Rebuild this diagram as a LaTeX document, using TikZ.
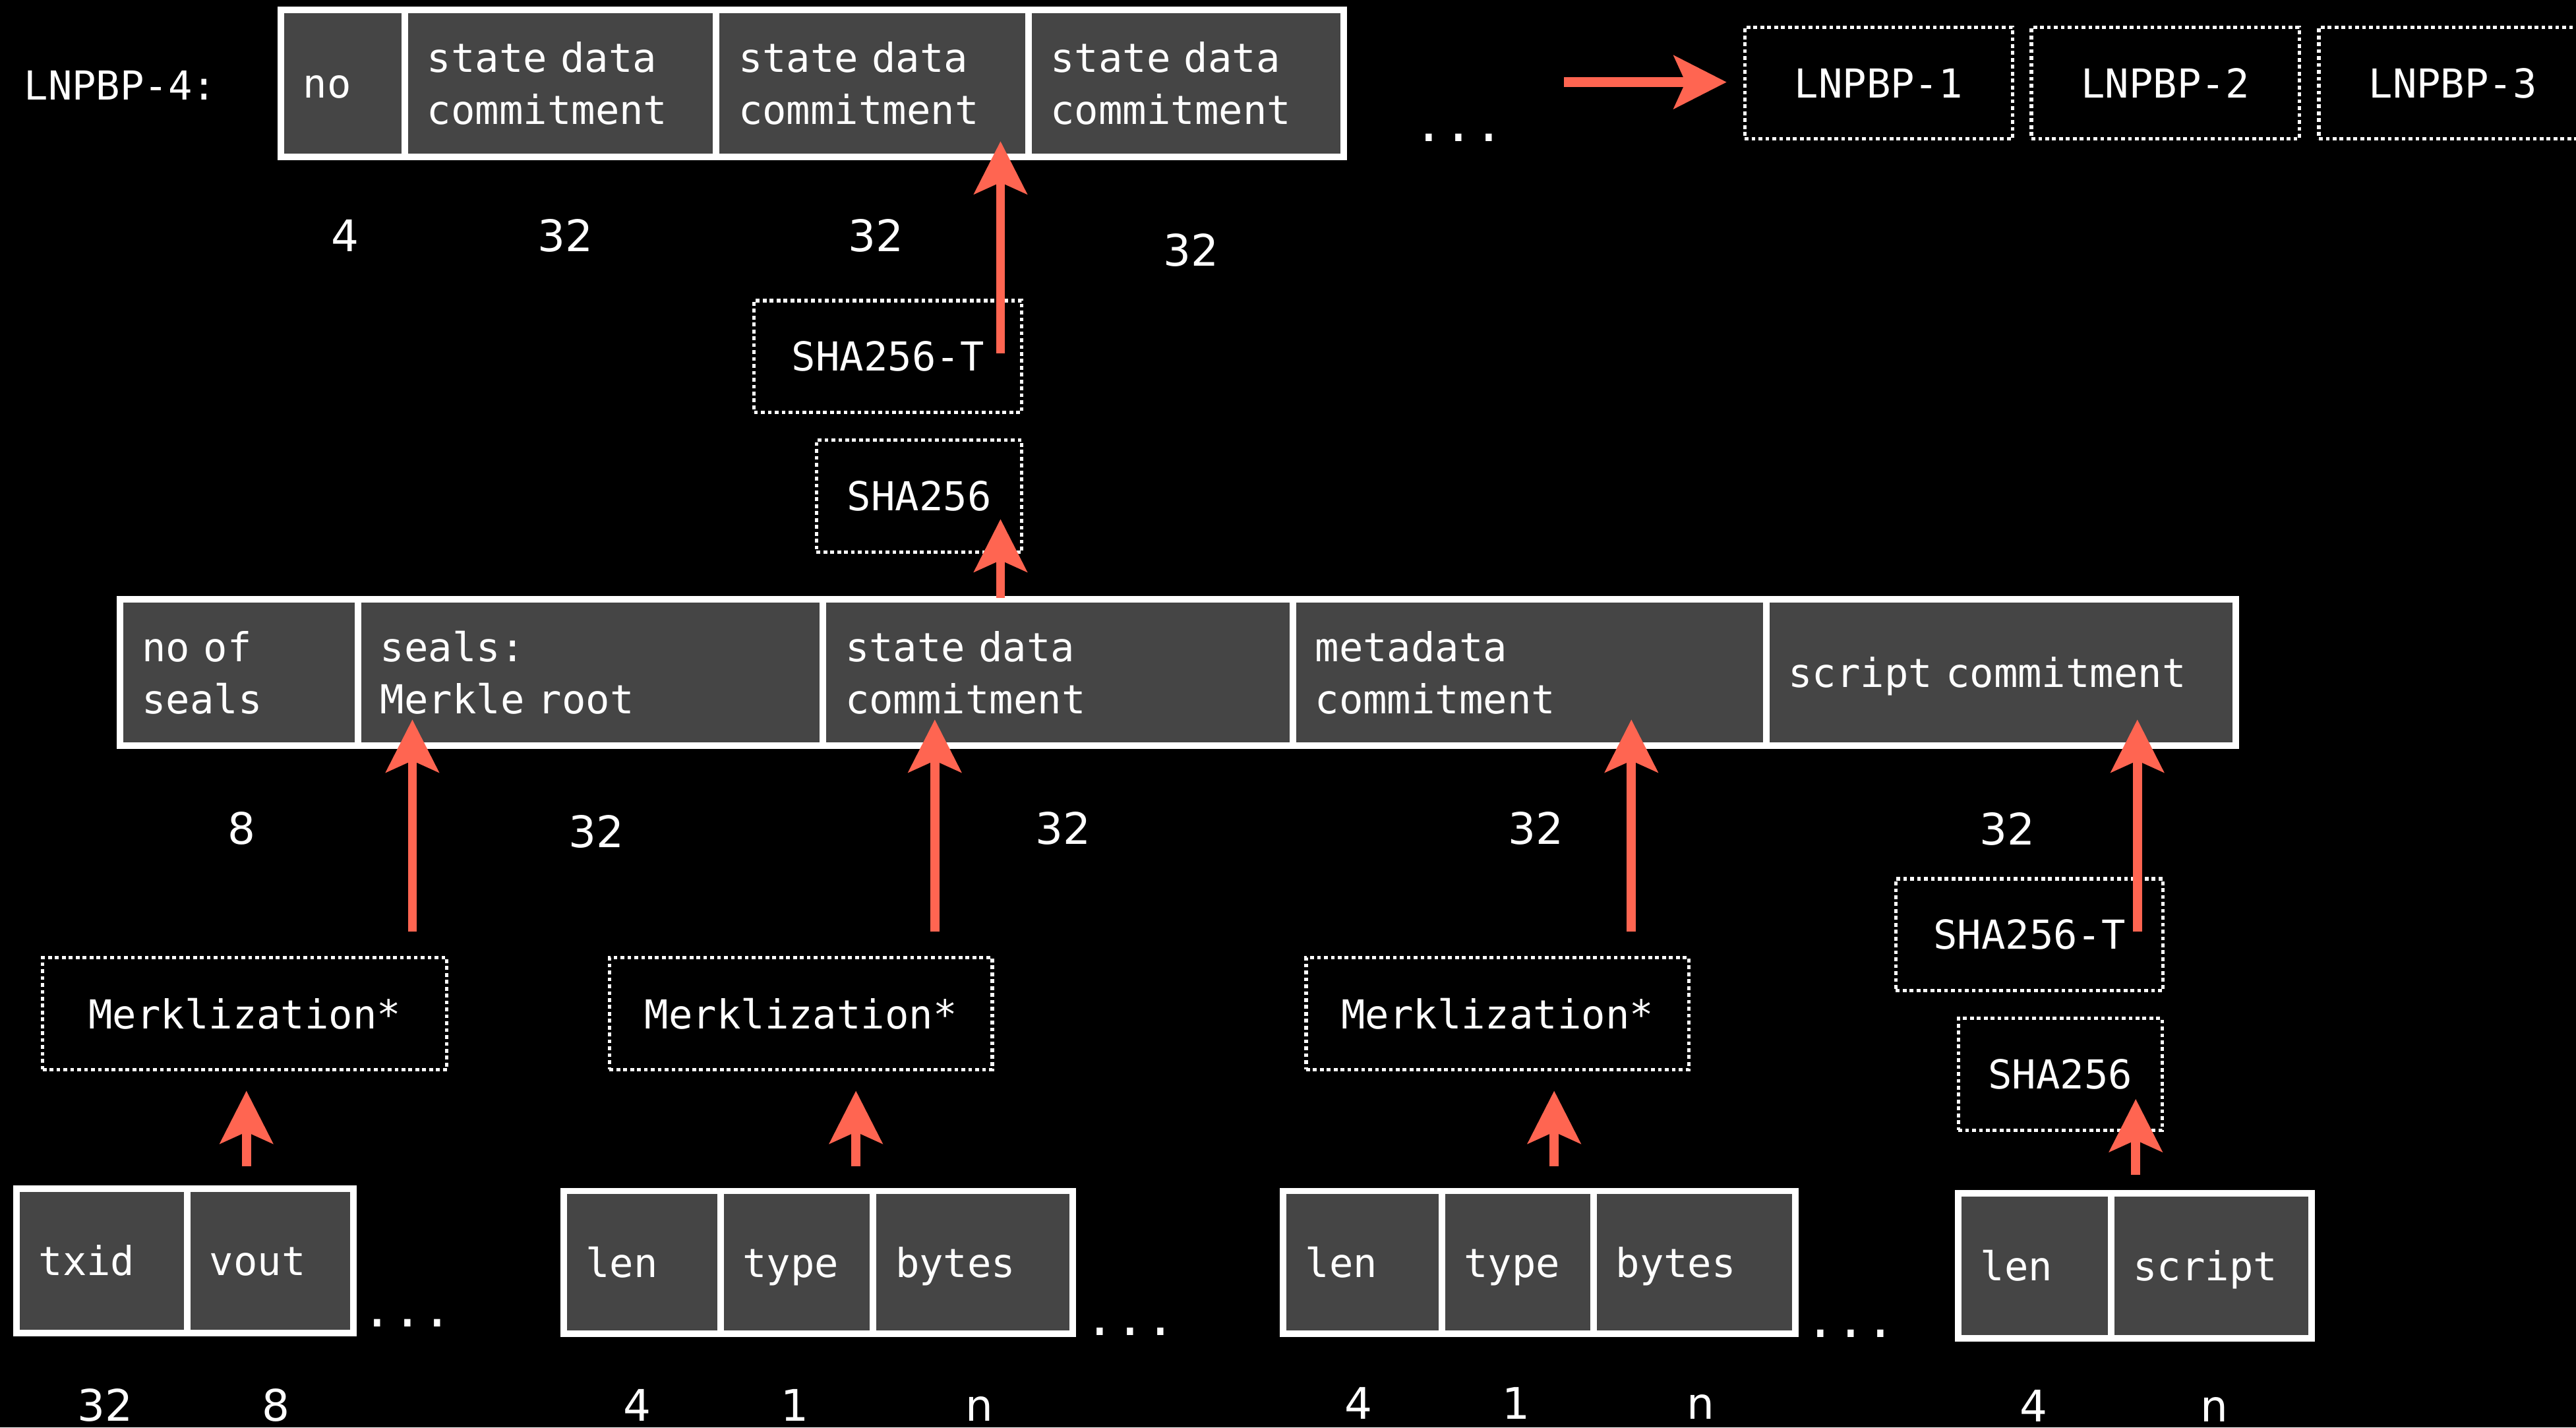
\documentclass[tikz,border=0pt]{standalone}
\usepackage{fontspec}
\setmonofont{DejaVu Sans Mono}
\newfontfamily\plainsans{DejaVu Sans}
\usetikzlibrary{arrows.meta}

\definecolor{cellgray}{HTML}{454545}
\definecolor{flowred}{HTML}{FF6551}

\newcommand\cellfnt{\ttfamily\fontsize{24.3pt}{32pt}\selectfont}
\newcommand\numfnt{\plainsans\fontsize{26.5pt}{30pt}\selectfont}
\newcommand\dotfnt{\ttfamily\fontsize{30.5pt}{32pt}\selectfont}

\begin{document}
\begin{tikzpicture}[x=1pt,y=-1pt,
  field/.style={draw=white, line width=4pt, fill=cellgray, text=white,
    font=\cellfnt, inner xsep=13.5pt, inner ysep=0pt, outer sep=0pt,
    anchor=west, align=left},
  oneline/.style={text height=18pt, text depth=0pt},
  algbox/.style={draw=white, line width=2.1pt, dash pattern=on 2.3pt off 1.9pt,
    text=white, font=\cellfnt, inner sep=0pt, outer sep=0pt,
    minimum height=68pt},
  size/.style={text=white, font=\numfnt, anchor=base, inner sep=0pt},
  more/.style={text=white, font=\dotfnt, anchor=base, inner sep=0pt},
  flow/.style={draw=flowred, line width=5.5pt,
    -{Stealth[length=32pt,width=32pt,inset=7pt]}},
]
\useasboundingbox (0,0) rectangle (1568,869);
\clip (0,0) rectangle (1568,869);
\fill[black] (0,0) rectangle (1568,869);

% ---------- LNPBP-4 commitment record ----------
\node[text=white, font=\cellfnt, anchor=base west, inner sep=0pt] (lbl) at (14.5,61) {LNPBP-4:};
\node[field, oneline, minimum height=89.5pt, text width=48.5pt] (c0) at (171,50.75) {no};
\node[field, minimum height=89.5pt, text width=162.5pt] (c1) at (246.5,50.75) {state data\\commitment};
\node[field, minimum height=89.5pt, text width=163pt] (c2) at (436,50.75) {state data\\commitment};
\node[field, minimum height=89.5pt, text width=165pt] (c3) at (626,50.75) {state data\\commitment};

\node[size] (nc0) at (210,153) {4};
\node[size] (nc1) at (344,153) {32};
\node[size] (nc2) at (533,153) {32};
\node[size] (nc3) at (725,162) {32};
\node[more] (dtop) at (888,86) {...};

\node[algbox, minimum width=163pt] (lp1) at (1143.5,50.6) {LNPBP-1};
\node[algbox, minimum width=163pt] (lp2) at (1318,50.6) {LNPBP-2};
\node[algbox, minimum width=163pt] (lp3) at (1493,50.6) {LNPBP-3};

% ---------- hashing of the state data ----------
\node[algbox, minimum width=163pt] (shaT) at (540.5,217) {SHA256-T};
\node[algbox, minimum width=125pt] (sha) at (559.5,302) {SHA256};

% ---------- state transition record ----------
\node[field, minimum height=89pt, text width=118pt] (d0) at (73,409.5) {no of\\seals};
\node[field, minimum height=89pt, text width=256pt] (d1) at (218,409.5) {seals:\\Merkle root};
\node[field, minimum height=89pt, text width=259pt] (d2) at (501,409.5) {state data\\commitment};
\node[field, minimum height=89pt, text width=261pt] (d3) at (787,409.5) {metadata\\commitment};
\node[field, oneline, minimum height=89pt, text width=259pt] (d4) at (1075,409.5) {script commitment};

\node[size] (nd0) at (147,514) {8};
\node[size] (nd1) at (363,516) {32};
\node[size] (nd2) at (647,514) {32};
\node[size] (nd3) at (935,514) {32};
\node[size] (nd4) at (1222,514.5) {32};

% ---------- merklization and script hashing ----------
\node[algbox, minimum width=246pt] (mk1) at (149,617) {Merklization*};
\node[algbox, minimum width=233pt] (mk2) at (487.5,617) {Merklization*};
\node[algbox, minimum width=233pt] (mk3) at (911.5,617) {Merklization*};
\node[algbox, minimum width=162.6pt] (shaT2) at (1235.3,569) {SHA256-T};
\node[algbox, minimum width=124pt] (sha2) at (1254,654) {SHA256};

% ---------- source records ----------
\node[field, oneline, minimum height=88pt, text width=77pt] (e0) at (10,767.5) {txid};
\node[field, oneline, minimum height=88pt, text width=74pt] (e1) at (114,767.5) {vout};
\node[more] (de) at (248,807.5) {...};
\node[size] (ne0) at (64,865) {32};
\node[size] (ne1) at (168,865) {8};

\node[field, oneline, minimum height=87pt, text width=68.5pt] (f0) at (343,768.5) {len};
\node[field, oneline, minimum height=87pt, text width=66pt] (f1) at (438.5,768.5) {type};
\node[field, oneline, minimum height=87pt, text width=94.5pt] (f2) at (531.5,768.5) {bytes};
\node[more] (df) at (688,813) {...};
\node[size] (nf0) at (388,865) {4};
\node[size] (nf1) at (484,865) {1};
\node[size] (nf2) at (596,865) {n};

\node[field, oneline, minimum height=87pt, text width=69.6pt] (g0) at (781,768.5) {len};
\node[field, oneline, minimum height=87pt, text width=65.4pt] (g1) at (877.6,768.5) {type};
\node[field, oneline, minimum height=87pt, text width=96pt] (g2) at (970,768.5) {bytes};
\node[more] (dg) at (1126.5,814) {...};
\node[size] (ng0) at (827,864) {4};
\node[size] (ng1) at (923,864) {1};
\node[size] (ng2) at (1035,864) {n};

\node[field, oneline, minimum height=88pt, text width=66pt] (h0) at (1192,770.5) {len};
\node[field, oneline, minimum height=88pt, text width=95pt] (h1) at (1285,770.5) {script};
\node[size] (nh0) at (1238,865.5) {4};
\node[size] (nh1) at (1348,865.5) {n};

% ---------- arrow end points ----------
\coordinate (toLnpbp) at (952,50);
\coordinate (lnpbpIn) at (1051,50);
\coordinate (shaTout) at (609,215);
\coordinate (c2in) at (609,86);
\coordinate (d2out) at (609,364);
\coordinate (shaIn) at (609,316);
\coordinate (mk1out) at (251,567);
\coordinate (d1in) at (251,438);
\coordinate (mk2out) at (569,567);
\coordinate (d2in) at (569,438);
\coordinate (mk3out) at (993,567);
\coordinate (d3in) at (993,438);
\coordinate (shaT2out) at (1301,567);
\coordinate (d4in) at (1301,438);
\coordinate (e1out) at (150,710);
\coordinate (mk1in) at (150,664);
\coordinate (f1out) at (521,710);
\coordinate (mk2in) at (521,664);
\coordinate (g1out) at (946,710);
\coordinate (mk3in) at (946,664);
\coordinate (h1out) at (1300,715);
\coordinate (sha2in) at (1300,669);

% ---------- arrows ----------
\draw[flow, line width=6pt] (toLnpbp) -- (lnpbpIn);
\draw[flow] (shaTout) -- (c2in);
\draw[flow] (d2out) -- (shaIn);
\draw[flow] (mk1out) -- (d1in);
\draw[flow] (mk2out) -- (d2in);
\draw[flow] (mk3out) -- (d3in);
\draw[flow] (shaT2out) -- (d4in);
\draw[flow] (e1out) -- (mk1in);
\draw[flow] (f1out) -- (mk2in);
\draw[flow] (g1out) -- (mk3in);
\draw[flow] (h1out) -- (sha2in);
\end{tikzpicture}
\end{document}
